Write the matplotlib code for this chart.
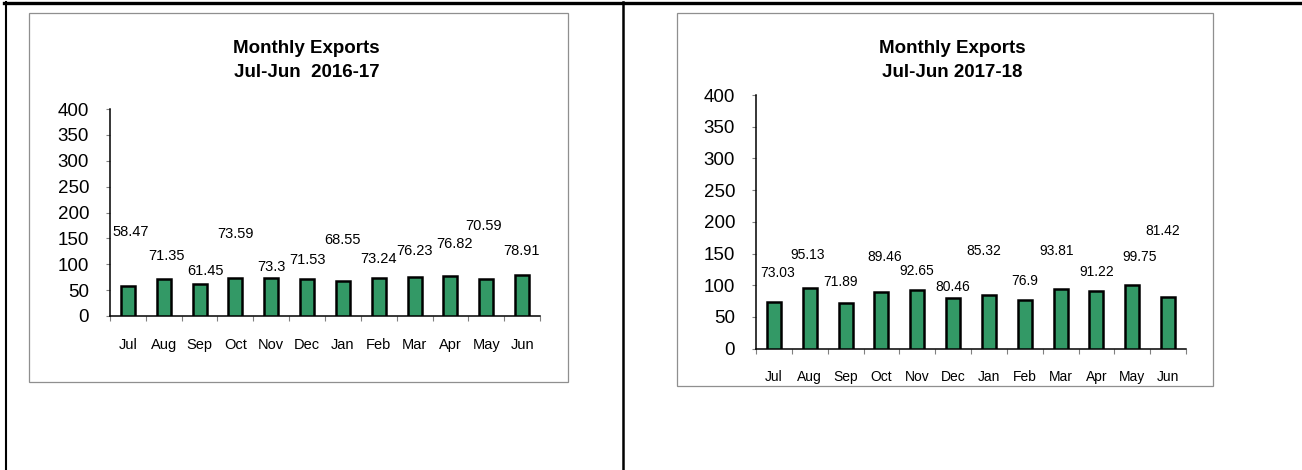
import matplotlib
matplotlib.use("Agg")
import matplotlib.pyplot as plt
from matplotlib.patches import Rectangle
from matplotlib.lines import Line2D
import numpy as np

plt.rcParams['font.family'] = ['Liberation Sans', 'DejaVu Sans']

months = ['Jul', 'Aug', 'Sep', 'Oct', 'Nov', 'Dec', 'Jan', 'Feb', 'Mar', 'Apr', 'May', 'Jun']
exports_2016_17 = [58.47, 71.35, 61.45, 73.59, 73.3, 71.53, 68.55, 73.24, 76.23, 76.82, 70.59, 78.91]
exports_2017_18 = [73.03, 95.13, 71.89, 89.46, 92.65, 80.46, 85.32, 76.9, 93.81, 91.22, 99.75, 81.42]
title_2016_17 = ['Monthly Exports', 'Jul-Jun  2016-17']
title_2017_18 = ['Monthly Exports', 'Jul-Jun 2017-18']
yticks = [0, 50, 100, 150, 200, 250, 300, 350, 400]

# label placement (layout only, as in the original hand-moved labels)
lab_dx_1 = [0.07, 0.075, 0.165, 0.0, 0.0, 0.0, -0.01, 0.0, -0.01, 0.12, -0.07, -0.02]
lab_y_1 = [163, 116, 87.5, 159, 95, 108, 147, 111, 126, 139, 174, 126]
lab_dx_2 = [0.11, -0.05, -0.13, 0.08, 0.0, 0.0, -0.14, 0.0, -0.1, 0.0, 0.2, -0.15]
lab_y_2 = [119, 147, 105, 144, 122, 98, 154, 107, 154, 121, 145, 186]

W, H = 1302, 470
fig = plt.figure(figsize=(W / 100, H / 100), dpi=100)
fig.patch.set_facecolor('white')

def fx(px):
    return px / W

def fy(py):
    return 1 - py / H

# table lines
fig.add_artist(Line2D([fx(4), 1], [fy(3), fy(3)], color='black', lw=2.4))
fig.add_artist(Line2D([fx(5.7), fx(5.7)], [fy(2), 0], color='black', lw=1.5))
fig.add_artist(Line2D([fx(622.7), fx(622.7)], [fy(2), 0], color='black', lw=1.8))

# chart boxes
for (x0, y0, x1, y1) in [(28.5, 12.7, 568, 382), (677.3, 13.3, 1213, 385.7)]:
    fig.add_artist(Rectangle((fx(x0), fy(y1)), fx(x1) - fx(x0), fy(y0) - fy(y1),
                             transform=fig.transFigure, fill=False,
                             edgecolor='#8f8f8f', lw=0.9))

def make_chart(rect, values, title, dx, ly, month_fs, val_fs, xpad, tcx):
    ax = fig.add_axes(rect)
    x = np.arange(len(months))
    ax.bar(x, values, width=0.39, color='#339966', edgecolor='black', linewidth=1.8, zorder=3)
    ax.set_xlim(-0.5, len(months) - 0.5)
    ax.set_ylim(0, 400)
    ax.set_yticks(yticks)
    ax.set_yticklabels([str(v) for v in yticks], fontsize=13.5)
    ax.tick_params(axis='y', length=3, width=0.8, color='#808080', pad=12)
    ax.set_xticks(x)
    ax.set_xticklabels(months, fontsize=month_fs)
    ax.tick_params(axis='x', which='major', length=0, pad=xpad)
    ax.set_xticks(np.arange(-0.5, len(months)), minor=True)
    ax.tick_params(axis='x', which='minor', length=3.8, width=0.8, color='#808080')
    for s in ['top', 'right']:
        ax.spines[s].set_visible(False)
    ax.spines['left'].set_linewidth(1.1)
    ax.spines['bottom'].set_linewidth(1.1)
    ax.patch.set_alpha(0)
    for i, v in enumerate(values):
        ax.text(i + dx[i], ly[i], f'{v:g}', ha='center', va='center', fontsize=val_fs, zorder=4)
    fig.text(fx(tcx), fy(53.3), title[0], ha='center', va='baseline', fontsize=13.5, fontweight='bold')
    fig.text(fx(tcx), fy(76.7), title[1], ha='center', va='baseline', fontsize=13.5, fontweight='bold')
    return ax

make_chart([fx(110), fy(316), fx(540) - fx(110), fy(109) - fy(316)],
           exports_2016_17, title_2016_17, lab_dx_1, lab_y_1, 10.5, 10.5, 15.5, 306.7)
make_chart([fx(756), fy(348.7), fx(1186) - fx(756), fy(95) - fy(348.7)],
           exports_2017_18, title_2017_18, lab_dx_2, lab_y_2, 10, 10, 15, 952)

fig.savefig('out.png', dpi=100)
